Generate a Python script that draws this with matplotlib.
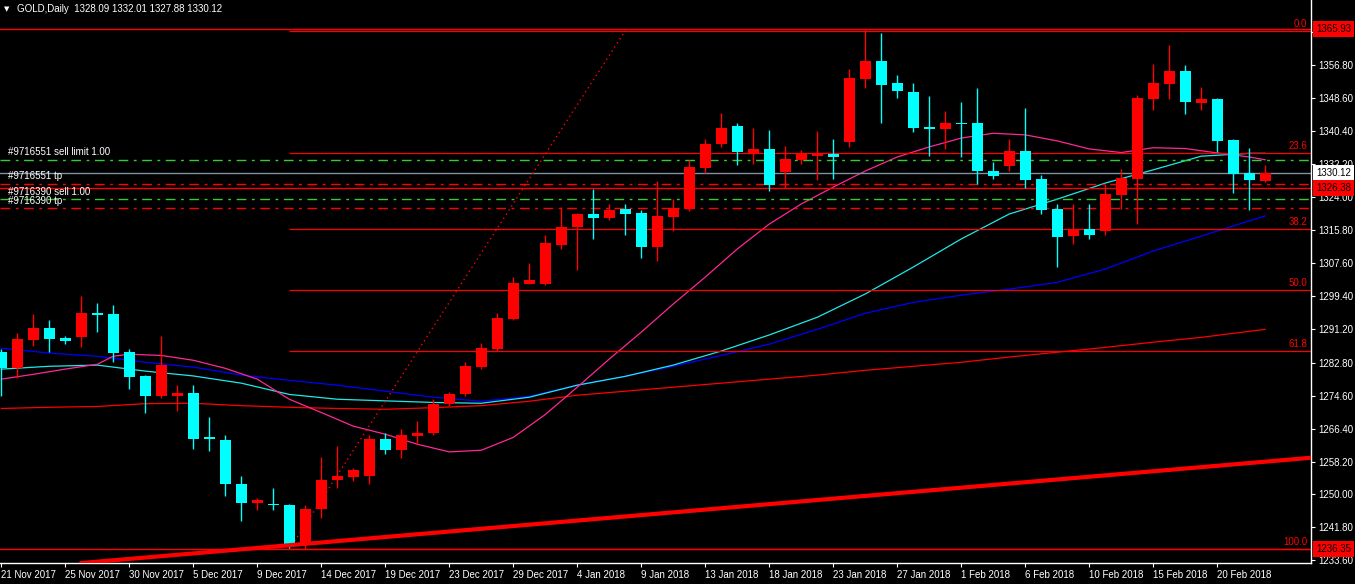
import numpy as np
import matplotlib
matplotlib.use("Agg")
import matplotlib.pyplot as plt
from matplotlib.transforms import blended_transform_factory

# GOLD daily bars (bar 0 = 21 Nov 2017, bar 79 = 23 Feb 2018)
opens = [1285.4, 1281.5, 1288.4, 1291.4, 1288.9, 1289.1, 1295.1, 1294.9, 1285.4, 1279.4,
         1274.5, 1274.5, 1275.2, 1264.4, 1263.5, 1252.7, 1247.8, 1247.7, 1247.5, 1237.3,
         1246.3, 1253.5, 1254.3, 1254.5, 1263.7, 1261.0, 1264.5, 1265.3, 1272.4, 1274.9,
         1281.7, 1286.1, 1293.6, 1302.4, 1302.4, 1312.2, 1316.6, 1319.8, 1318.8, 1321.1,
         1320.1, 1311.6, 1319.0, 1321.1, 1331.3, 1337.3, 1341.7, 1335.0, 1336.0, 1330.3,
         1333.3, 1334.3, 1334.8, 1337.7, 1353.4, 1357.9, 1352.5, 1350.2, 1341.5, 1341.0,
         1342.5, 1342.5, 1330.5, 1331.8, 1335.5, 1328.5, 1321.1, 1314.3, 1316.1, 1315.6,
         1324.6, 1328.6, 1348.5, 1352.2, 1355.5, 1347.5, 1348.5, 1338.3, 1330.0, 1328.09]
highs = [1286.1, 1290.1, 1294.9, 1293.4, 1289.4, 1299.4, 1297.6, 1297.1, 1286.1, 1279.7,
         1289.4, 1277.2, 1277.2, 1269.2, 1264.7, 1254.5, 1249.0, 1251.5, 1247.7, 1247.5,
         1259.2, 1262.0, 1256.6, 1264.7, 1265.4, 1266.4, 1268.2, 1273.7, 1275.6, 1282.9,
         1287.6, 1295.1, 1304.1, 1307.6, 1314.6, 1321.6, 1320.1, 1326.0, 1322.3, 1322.3,
         1320.8, 1328.0, 1323.5, 1333.3, 1338.5, 1345.0, 1342.5, 1341.2, 1340.7, 1336.7,
         1335.7, 1340.5, 1338.5, 1355.9, 1365.9, 1364.9, 1354.4, 1352.5, 1349.2, 1345.5,
         1347.7, 1351.2, 1332.7, 1338.5, 1346.2, 1329.5, 1322.3, 1322.3, 1322.3, 1327.3,
         1331.0, 1349.5, 1357.2, 1361.9, 1357.0, 1351.5, 1348.7, 1338.5, 1336.2, 1332.01]
lows = [1274.5, 1279.0, 1287.0, 1285.5, 1287.4, 1286.6, 1290.5, 1283.0, 1276.2, 1270.3,
        1274.0, 1270.8, 1261.2, 1260.7, 1249.5, 1243.3, 1246.1, 1246.1, 1236.6, 1236.35,
        1244.1, 1251.6, 1253.3, 1252.5, 1260.0, 1259.0, 1262.5, 1264.8, 1271.9, 1274.4,
        1281.2, 1285.6, 1293.4, 1302.3, 1302.2, 1311.2, 1305.9, 1313.7, 1318.3, 1314.6,
        1308.8, 1308.1, 1315.6, 1320.6, 1330.0, 1336.5, 1332.0, 1332.3, 1325.5, 1326.3,
        1332.3, 1328.3, 1328.5, 1336.5, 1351.2, 1342.5, 1348.7, 1340.3, 1334.3, 1336.0,
        1334.0, 1327.3, 1328.5, 1330.5, 1326.3, 1319.8, 1306.6, 1312.4, 1313.5, 1314.6,
        1321.1, 1317.3, 1345.7, 1348.5, 1344.7, 1345.7, 1335.3, 1325.0, 1320.8, 1327.88]
closes = [1281.4, 1288.6, 1291.4, 1288.6, 1288.1, 1295.1, 1294.7, 1285.2, 1279.2, 1274.5,
          1282.2, 1275.2, 1263.7, 1263.7, 1252.5, 1247.8, 1248.5, 1247.3, 1237.3, 1246.5,
          1253.7, 1254.5, 1256.2, 1263.7, 1261.0, 1264.7, 1265.4, 1272.4, 1274.9, 1281.9,
          1286.4, 1293.9, 1302.6, 1303.4, 1312.6, 1316.6, 1319.8, 1318.8, 1320.8, 1319.8,
          1311.6, 1319.3, 1321.3, 1331.5, 1337.3, 1341.2, 1335.2, 1336.0, 1327.0, 1333.5,
          1334.8, 1335.0, 1334.0, 1353.7, 1357.9, 1351.9, 1350.5, 1341.2, 1341.0, 1342.5,
          1342.3, 1330.5, 1329.3, 1335.5, 1328.3, 1320.8, 1314.1, 1316.1, 1314.6, 1324.8,
          1328.8, 1348.7, 1352.5, 1355.5, 1347.7, 1348.5, 1338.0, 1329.8, 1328.3, 1330.12]

date_labels = ["21 Nov 2017", "25 Nov 2017", "30 Nov 2017", "5 Dec 2017", "9 Dec 2017",
               "14 Dec 2017", "19 Dec 2017", "23 Dec 2017", "29 Dec 2017", "4 Jan 2018",
               "9 Jan 2018", "13 Jan 2018", "18 Jan 2018", "23 Jan 2018", "27 Jan 2018",
               "1 Feb 2018", "6 Feb 2018", "10 Feb 2018", "15 Feb 2018", "20 Feb 2018"]
date_bars = [0, 4, 8, 12, 16, 20, 24, 28, 32, 36, 40, 44, 48, 52, 56, 60, 64, 68, 72, 76]

price_ticks = [1365.00, 1356.80, 1348.60, 1340.40, 1332.20, 1324.00, 1315.80, 1307.60, 1299.40,
               1291.20, 1282.80, 1274.60, 1266.40, 1258.20, 1250.00, 1241.80, 1233.60]

# moving averages (values read at some bars)
ma_pink_bars = [0, 2, 4, 6, 7, 8, 10, 12, 14, 16, 18, 20, 22, 24, 26, 28, 30, 32, 34, 36, 38, 40,
                42, 44, 46, 48, 50, 52, 54, 56, 58, 60, 62, 64, 66, 68, 70, 72, 74, 76, 78, 79]
ma_pink = [1278.7, 1279.9, 1281.2, 1282.4, 1284.4, 1284.9, 1284.6, 1283.4, 1281.4, 1278.7,
           1273.7, 1270.4, 1267.0, 1265.0, 1262.5, 1260.6, 1261.0, 1264.2, 1269.9, 1276.7,
           1283.7, 1290.4, 1297.4, 1304.1, 1311.1, 1317.3, 1322.3, 1326.5, 1330.5, 1334.0,
           1336.5, 1338.7, 1339.9, 1339.5, 1338.0, 1336.0, 1335.1, 1336.3, 1336.1, 1335.0,
           1334.0, 1333.3]
ma_cyan_bars = [0, 3, 6, 9, 12, 15, 18, 21, 24, 27, 30, 33, 36, 39, 42, 45, 48, 51, 54, 57,
                60, 63, 66, 69, 72, 75, 78, 79]
ma_cyan = [1281.2, 1281.9, 1282.2, 1280.7, 1279.5, 1277.7, 1274.9, 1273.7, 1273.3, 1272.9,
           1272.7, 1274.2, 1277.2, 1279.4, 1282.2, 1285.7, 1289.7, 1294.1, 1299.9, 1306.6,
           1313.6, 1319.8, 1323.5, 1327.5, 1330.8, 1334.2, 1334.9, 1334.9]
ma_blue_bars = ma_cyan_bars
ma_blue = [1286.4, 1285.2, 1284.4, 1282.9, 1281.7, 1279.7, 1278.4, 1277.2, 1275.7, 1274.2,
           1273.2, 1274.4, 1277.2, 1279.4, 1281.9, 1284.6, 1287.4, 1291.1, 1295.1, 1297.8,
           1299.6, 1301.1, 1302.8, 1306.1, 1310.6, 1314.3, 1318.1, 1319.3]
ma_red_bars = ma_cyan_bars
ma_red = [1271.4, 1271.7, 1271.9, 1272.6, 1272.7, 1272.1, 1271.7, 1271.4, 1271.2, 1271.6,
          1272.1, 1273.2, 1274.7, 1275.7, 1276.7, 1277.7, 1278.7, 1279.7, 1280.9, 1281.9,
          1282.9, 1284.2, 1285.4, 1286.6, 1287.9, 1289.1, 1290.6, 1291.1]

# fibonacci from the 19 Dec low to the high
fib_low, fib_high = 1236.35, 1365.43
fib_levels = [0.0, 23.6, 38.2, 50.0, 61.8, 100.0]

# order lines
orders = [("#9716551 sell limit 1.00", 1333.35, "#33CC33"),
          ("#9716551 tp", 1327.3, "#FF0000"),
          ("#9716390 sell 1.00", 1323.5, "#33CC33"),
          ("#9716390 tp", 1321.2, "#FF0000")]
hlines = [1365.93, 1326.38, 1236.35]
bid = 1330.12

plt.rcParams['font.family'] = ['Liberation Sans', 'DejaVu Sans']

fig = plt.figure(figsize=(13.55, 5.84), dpi=100, facecolor='black')
ax = fig.add_axes([0, 21 / 584, 1311 / 1355, 563 / 584])
ax.set_facecolor('black')

o = np.array(opens); h = np.array(highs); l = np.array(lows); c = np.array(closes)
x = np.arange(len(o))
cols = np.where(c >= o, '#FF0000', '#00FFFF')

# moving averages
ax.plot(ma_red_bars, ma_red, color='#FF0000', lw=0.9, zorder=2)
ax.plot(ma_blue_bars, ma_blue, color='#0000FF', lw=0.9, zorder=2)
ax.plot(ma_cyan_bars, ma_cyan, color='#20E8E8', lw=0.9, zorder=2)
ax.plot(ma_pink_bars, ma_pink, color='#FF2896', lw=0.9, zorder=2)

# candles
ax.vlines(x, l, h, colors=cols, lw=1.0, zorder=3)
ax.bar(x, np.maximum(np.abs(c - o), 0.25), bottom=np.minimum(o, c), width=0.66,
       color=cols, edgecolor='none', zorder=4)

# horizontal lines
for v in hlines:
    ax.axhline(v, color='#FF0000', lw=1.0, zorder=2)
ax.axhline(bid, color='#8090A0', lw=1.0, zorder=2)

trans = blended_transform_factory(ax.transAxes, ax.transData)
for txt, v, col in orders:
    ax.axhline(v, color=col, lw=1.0, ls=(0, (7, 4, 2, 4)), zorder=2)
    ax.text(8 / 1311, v + 0.6, txt, transform=trans,
            color='white', fontsize=7, ha='left', va='bottom', zorder=6)

# fibonacci
for lev in fib_levels:
    v = fib_high - (fib_high - fib_low) * lev / 100
    ax.hlines(v, 18, 90, color='#FF0000', lw=0.9, zorder=2)
    ax.text(0.997, v + 0.5, f"{lev:.1f}", transform=trans, color='#FF0000',
            fontsize=7, ha='right', va='bottom', zorder=6)
ax.plot([18, 39], [fib_low, fib_high], color='#FF0000', lw=1.0, ls=(0, (1, 2.5)), zorder=2)

# trend line
ax.axline((14, 1236.0), (80, 1258.5), color='#FF0000', lw=3, zorder=5)

ax.set_xlim(-0.08, 81.86)
ax.set_ylim(1232.94, 1373.07)

ax.set_yticks(price_ticks)
ax.set_yticklabels([f"{v:.2f}" for v in price_ticks])
ax.yaxis.tick_right()
ax.tick_params(axis='y', direction='out', length=3, color='white', labelcolor='white',
               labelsize=7, pad=2)
ax.set_xticks(date_bars)
ax.set_xticklabels(date_labels)
ax.tick_params(axis='x', direction='out', length=3, color='white', labelcolor='white',
               labelsize=7, pad=2)
for lab in ax.get_xticklabels():
    lab.set_ha('left')

for s in ['top', 'left']:
    ax.spines[s].set_visible(False)
for s in ['right', 'bottom']:
    ax.spines[s].set_color('white')
    ax.spines[s].set_linewidth(1.0)

# price tags on the axis
for v, fc in [(1365.93, '#FF0000'), (bid, 'white'), (1326.38, '#FF0000'), (1236.35, '#FF0000')]:
    ax.text(1 + 5 / 1311, v, f"{v:.2f}", transform=trans, color='black', fontsize=7,
            ha='left', va='center', clip_on=False, zorder=10,
            bbox=dict(boxstyle='square,pad=0.3', fc=fc, ec='none'))

fig.text(4 / 1355, 1 - 9 / 584, "\u25bc", color='white', fontsize=5, va='center',
         family='DejaVu Sans')
fig.text(17 / 1355, 1 - 9 / 584, "GOLD,Daily  1328.09 1332.01 1327.88 1330.12",
         color='white', fontsize=7, va='center')

fig.savefig("out.png", dpi=100, facecolor='black')
